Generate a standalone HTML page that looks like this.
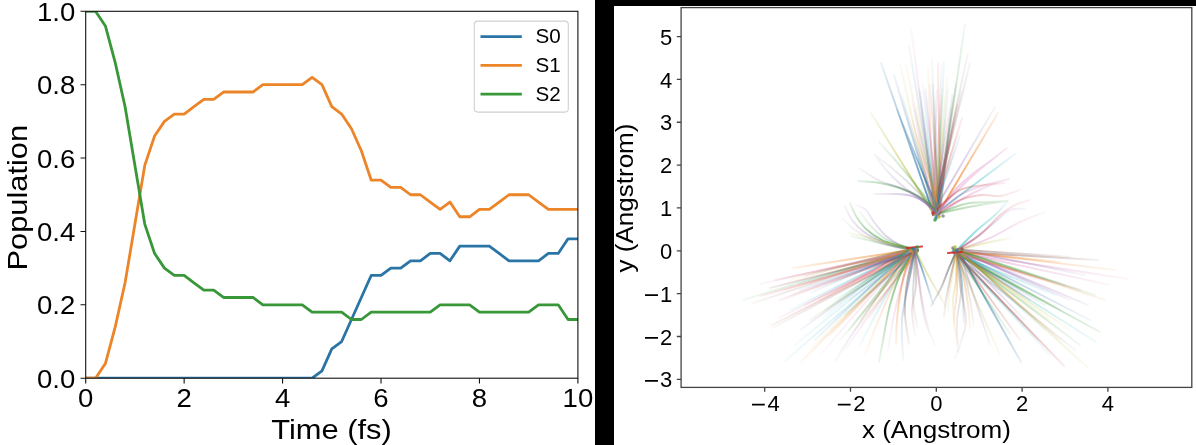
<!DOCTYPE html><html><head><meta charset="utf-8"><style>html,body{margin:0;padding:0;background:#fff;overflow:hidden}svg{display:block;will-change:transform}text{font-family:'Liberation Sans', sans-serif}</style></head><body>
<svg width="1196" height="445" viewBox="0 0 1196 445">
<rect x="0" y="0" width="1196" height="445" fill="#fff"/>
<defs><clipPath id="cl"><rect x="85.70" y="11.30" width="492.20" height="366.90"/></clipPath>
<filter id="bl" x="-5%" y="-5%" width="110%" height="110%"><feGaussianBlur stdDeviation="0.55"/></filter>
<clipPath id="cr"><rect x="681.10" y="7.60" width="510.70" height="379.80"/></clipPath></defs>
<g clip-path="url(#cl)" fill="none" stroke-width="2.80" stroke-linejoin="round" stroke-linecap="square">
<polyline points="85.70,378.20 95.54,378.20 105.39,378.20 115.23,378.20 125.08,378.20 134.92,378.20 144.76,378.20 154.61,378.20 164.45,378.20 174.30,378.20 184.14,378.20 193.98,378.20 203.83,378.20 213.67,378.20 223.52,378.20 233.36,378.20 243.20,378.20 253.05,378.20 262.89,378.20 272.74,378.20 282.58,378.20 292.42,378.20 302.27,378.20 312.11,378.20 321.96,370.86 331.80,348.85 341.64,341.51 351.49,319.50 361.33,297.48 371.18,275.47 381.02,275.47 390.86,268.13 400.71,268.13 410.55,260.79 420.40,260.79 430.24,253.45 440.08,253.45 449.93,260.79 459.77,246.12 469.62,246.12 479.46,246.12 489.30,246.12 499.15,253.45 508.99,260.79 518.84,260.79 528.68,260.79 538.52,260.79 548.37,253.45 558.21,253.45 568.06,238.78 577.90,238.78" stroke="#2b74a6"/>
<polyline points="85.70,378.20 95.54,378.20 105.39,363.52 115.23,326.83 125.08,282.81 134.92,224.10 144.76,165.40 154.61,136.05 164.45,121.37 174.30,114.03 184.14,114.03 193.98,106.69 203.83,99.36 213.67,99.36 223.52,92.02 233.36,92.02 243.20,92.02 253.05,92.02 262.89,84.68 272.74,84.68 282.58,84.68 292.42,84.68 302.27,84.68 312.11,77.34 321.96,84.68 331.80,106.69 341.64,114.03 351.49,128.71 361.33,150.72 371.18,180.07 381.02,180.07 390.86,187.41 400.71,187.41 410.55,194.75 420.40,194.75 430.24,202.09 440.08,209.43 449.93,202.09 459.77,216.76 469.62,216.76 479.46,209.43 489.30,209.43 499.15,202.09 508.99,194.75 518.84,194.75 528.68,194.75 538.52,202.09 548.37,209.43 558.21,209.43 568.06,209.43 577.90,209.43" stroke="#ec8428"/>
<polyline points="85.70,11.30 95.54,11.30 105.39,25.98 115.23,62.67 125.08,106.69 134.92,165.40 144.76,224.10 154.61,253.45 164.45,268.13 174.30,275.47 184.14,275.47 193.98,282.81 203.83,290.14 213.67,290.14 223.52,297.48 233.36,297.48 243.20,297.48 253.05,297.48 262.89,304.82 272.74,304.82 282.58,304.82 292.42,304.82 302.27,304.82 312.11,312.16 321.96,312.16 331.80,312.16 341.64,312.16 351.49,319.50 361.33,319.50 371.18,312.16 381.02,312.16 390.86,312.16 400.71,312.16 410.55,312.16 420.40,312.16 430.24,312.16 440.08,304.82 449.93,304.82 459.77,304.82 469.62,304.82 479.46,312.16 489.30,312.16 499.15,312.16 508.99,312.16 518.84,312.16 528.68,312.16 538.52,304.82 548.37,304.82 558.21,304.82 568.06,319.50 577.90,319.50" stroke="#389738"/>
</g>
<rect x="85.70" y="11.30" width="492.20" height="366.90" fill="none" stroke="#111" stroke-width="1.1"/>
<path d="M80.50 378.20H85.70M80.50 304.82H85.70M80.50 231.44H85.70M80.50 158.06H85.70M80.50 84.68H85.70M80.50 11.30H85.70M85.70 378.20V383.40M184.14 378.20V383.40M282.58 378.20V383.40M381.02 378.20V383.40M479.46 378.20V383.40M577.90 378.20V383.40" stroke="#111" stroke-width="1.1" fill="none"/>
<text transform="translate(75.2 387.80) scale(1.080 1)" font-size="25.50" text-anchor="end">0.0</text>
<text transform="translate(75.2 314.42) scale(1.080 1)" font-size="25.50" text-anchor="end">0.2</text>
<text transform="translate(75.2 241.04) scale(1.080 1)" font-size="25.50" text-anchor="end">0.4</text>
<text transform="translate(75.2 167.66) scale(1.080 1)" font-size="25.50" text-anchor="end">0.6</text>
<text transform="translate(75.2 94.28) scale(1.080 1)" font-size="25.50" text-anchor="end">0.8</text>
<text transform="translate(75.2 20.90) scale(1.080 1)" font-size="25.50" text-anchor="end">1.0</text>
<text transform="translate(85.70 407.2) scale(1.080 1)" font-size="25.50" text-anchor="middle">0</text>
<text transform="translate(184.14 407.2) scale(1.080 1)" font-size="25.50" text-anchor="middle">2</text>
<text transform="translate(282.58 407.2) scale(1.080 1)" font-size="25.50" text-anchor="middle">4</text>
<text transform="translate(381.02 407.2) scale(1.080 1)" font-size="25.50" text-anchor="middle">6</text>
<text transform="translate(479.46 407.2) scale(1.080 1)" font-size="25.50" text-anchor="middle">8</text>
<text transform="translate(577.90 407.2) scale(1.080 1)" font-size="25.50" text-anchor="middle">10</text>
<text transform="translate(331.50 438.9) scale(1.115 1)" font-size="27.7" text-anchor="middle">Time (fs)</text>
<text transform="translate(27.4 197.75) rotate(-90) scale(1.085 1)" font-size="28.4" text-anchor="middle">Population</text>
<rect x="474.3" y="21.1" width="94" height="91" rx="3.5" ry="3.5" fill="#fff" fill-opacity="0.8" stroke="#d0d0d0" stroke-width="1.1"/>
<path d="M480.5 36.70H521.8" stroke="#2b74a6" stroke-width="2.80"/>
<text x="535.5" y="43.30" font-size="20.6">S0</text>
<path d="M480.5 65.40H521.8" stroke="#ec8428" stroke-width="2.80"/>
<text x="535.5" y="72.00" font-size="20.6">S1</text>
<path d="M480.5 94.10H521.8" stroke="#389738" stroke-width="2.80"/>
<text x="535.5" y="100.70" font-size="20.6">S2</text>
<rect x="595" y="0" width="19" height="445" fill="#000"/>
<rect x="595" y="0" width="601" height="6" fill="#000"/>
<g clip-path="url(#cr)"><g id="traj" filter="url(#bl)" fill="none" stroke-linecap="round" stroke-width="1.9">
<defs><linearGradient id="g1" gradientUnits="userSpaceOnUse" x1="935.1" y1="212.7" x2="911.0" y2="28.0"><stop offset="0" stop-color="#d97dbd" stop-opacity="0.40"/><stop offset="1" stop-color="#d97dbd" stop-opacity="0.05"/></linearGradient><linearGradient id="g2" gradientUnits="userSpaceOnUse" x1="937.7" y1="212.3" x2="965.0" y2="24.0"><stop offset="0" stop-color="#369936" stop-opacity="0.48"/><stop offset="1" stop-color="#369936" stop-opacity="0.06"/></linearGradient><linearGradient id="g3" gradientUnits="userSpaceOnUse" x1="936.8" y1="213.6" x2="909.0" y2="46.0"><stop offset="0" stop-color="#2974a8" stop-opacity="0.32"/><stop offset="1" stop-color="#2974a8" stop-opacity="0.04"/></linearGradient><linearGradient id="g4" gradientUnits="userSpaceOnUse" x1="933.0" y1="214.3" x2="968.0" y2="53.0"><stop offset="0" stop-color="#7f7f7f" stop-opacity="0.48"/><stop offset="1" stop-color="#7f7f7f" stop-opacity="0.06"/></linearGradient><linearGradient id="g5" gradientUnits="userSpaceOnUse" x1="932.8" y1="214.0" x2="970.0" y2="63.0"><stop offset="0" stop-color="#7f7f7f" stop-opacity="0.56"/><stop offset="1" stop-color="#7f7f7f" stop-opacity="0.07"/></linearGradient><linearGradient id="g6" gradientUnits="userSpaceOnUse" x1="933.1" y1="212.4" x2="881.0" y2="63.0"><stop offset="0" stop-color="#2974a8" stop-opacity="0.80"/><stop offset="1" stop-color="#2974a8" stop-opacity="0.10"/></linearGradient><linearGradient id="g7" gradientUnits="userSpaceOnUse" x1="935.9" y1="215.7" x2="894.0" y2="75.0"><stop offset="0" stop-color="#2974a8" stop-opacity="0.56"/><stop offset="1" stop-color="#2974a8" stop-opacity="0.07"/></linearGradient><linearGradient id="g8" gradientUnits="userSpaceOnUse" x1="933.5" y1="213.0" x2="900.0" y2="64.0"><stop offset="0" stop-color="#b9ba37" stop-opacity="0.40"/><stop offset="1" stop-color="#b9ba37" stop-opacity="0.05"/></linearGradient><linearGradient id="g9" gradientUnits="userSpaceOnUse" x1="937.5" y1="216.3" x2="906.0" y2="65.0"><stop offset="0" stop-color="#f08323" stop-opacity="0.32"/><stop offset="1" stop-color="#f08323" stop-opacity="0.04"/></linearGradient><linearGradient id="g10" gradientUnits="userSpaceOnUse" x1="937.1" y1="213.8" x2="932.0" y2="60.0"><stop offset="0" stop-color="#7f7f7f" stop-opacity="0.40"/><stop offset="1" stop-color="#7f7f7f" stop-opacity="0.05"/></linearGradient><linearGradient id="g11" gradientUnits="userSpaceOnUse" x1="940.3" y1="212.2" x2="938.0" y2="63.0"><stop offset="0" stop-color="#c42f30" stop-opacity="0.48"/><stop offset="1" stop-color="#c42f30" stop-opacity="0.06"/></linearGradient><linearGradient id="g12" gradientUnits="userSpaceOnUse" x1="939.4" y1="213.3" x2="941.0" y2="65.0"><stop offset="0" stop-color="#d97dbd" stop-opacity="0.48"/><stop offset="1" stop-color="#d97dbd" stop-opacity="0.06"/></linearGradient><linearGradient id="g13" gradientUnits="userSpaceOnUse" x1="933.7" y1="212.5" x2="928.0" y2="68.0"><stop offset="0" stop-color="#f08323" stop-opacity="0.40"/><stop offset="1" stop-color="#f08323" stop-opacity="0.05"/></linearGradient><linearGradient id="g14" gradientUnits="userSpaceOnUse" x1="935.0" y1="215.7" x2="947.0" y2="78.0"><stop offset="0" stop-color="#b9ba37" stop-opacity="0.48"/><stop offset="1" stop-color="#b9ba37" stop-opacity="0.06"/></linearGradient><linearGradient id="g15" gradientUnits="userSpaceOnUse" x1="933.9" y1="214.6" x2="871.0" y2="113.0"><stop offset="0" stop-color="#b9ba37" stop-opacity="0.80"/><stop offset="1" stop-color="#b9ba37" stop-opacity="0.10"/></linearGradient><linearGradient id="g16" gradientUnits="userSpaceOnUse" x1="937.6" y1="213.7" x2="879.0" y2="142.0"><stop offset="0" stop-color="#369936" stop-opacity="0.48"/><stop offset="1" stop-color="#369936" stop-opacity="0.06"/></linearGradient><linearGradient id="g17" gradientUnits="userSpaceOnUse" x1="936.9" y1="212.3" x2="875.0" y2="155.0"><stop offset="0" stop-color="#7f7f7f" stop-opacity="0.40"/><stop offset="1" stop-color="#7f7f7f" stop-opacity="0.05"/></linearGradient><linearGradient id="g18" gradientUnits="userSpaceOnUse" x1="933.0" y1="212.9" x2="995.0" y2="107.0"><stop offset="0" stop-color="#916ab4" stop-opacity="0.48"/><stop offset="1" stop-color="#916ab4" stop-opacity="0.06"/></linearGradient><linearGradient id="g19" gradientUnits="userSpaceOnUse" x1="937.9" y1="213.9" x2="998.0" y2="113.0"><stop offset="0" stop-color="#f08323" stop-opacity="0.88"/><stop offset="1" stop-color="#f08323" stop-opacity="0.11"/></linearGradient><linearGradient id="g20" gradientUnits="userSpaceOnUse" x1="935.0" y1="214.6" x2="1007.0" y2="148.0"><stop offset="0" stop-color="#d97dbd" stop-opacity="0.56"/><stop offset="1" stop-color="#d97dbd" stop-opacity="0.07"/></linearGradient><linearGradient id="g21" gradientUnits="userSpaceOnUse" x1="936.1" y1="213.3" x2="1015.0" y2="154.0"><stop offset="0" stop-color="#29b7c5" stop-opacity="0.72"/><stop offset="1" stop-color="#29b7c5" stop-opacity="0.09"/></linearGradient><linearGradient id="g22" gradientUnits="userSpaceOnUse" x1="938.9" y1="215.1" x2="1009.0" y2="179.0"><stop offset="0" stop-color="#d97dbd" stop-opacity="0.56"/><stop offset="1" stop-color="#d97dbd" stop-opacity="0.07"/></linearGradient><linearGradient id="g23" gradientUnits="userSpaceOnUse" x1="934.5" y1="214.6" x2="1007.0" y2="201.0"><stop offset="0" stop-color="#369936" stop-opacity="0.48"/><stop offset="1" stop-color="#369936" stop-opacity="0.06"/></linearGradient><linearGradient id="g24" gradientUnits="userSpaceOnUse" x1="936.7" y1="215.9" x2="920.0" y2="92.0"><stop offset="0" stop-color="#2974a8" stop-opacity="0.48"/><stop offset="1" stop-color="#2974a8" stop-opacity="0.06"/></linearGradient><linearGradient id="g25" gradientUnits="userSpaceOnUse" x1="938.3" y1="213.3" x2="925.0" y2="90.0"><stop offset="0" stop-color="#916ab4" stop-opacity="0.40"/><stop offset="1" stop-color="#916ab4" stop-opacity="0.05"/></linearGradient><linearGradient id="g26" gradientUnits="userSpaceOnUse" x1="940.3" y1="212.5" x2="952.0" y2="95.0"><stop offset="0" stop-color="#369936" stop-opacity="0.48"/><stop offset="1" stop-color="#369936" stop-opacity="0.06"/></linearGradient><linearGradient id="g27" gradientUnits="userSpaceOnUse" x1="935.8" y1="215.4" x2="957.0" y2="105.0"><stop offset="0" stop-color="#86584f" stop-opacity="0.72"/><stop offset="1" stop-color="#86584f" stop-opacity="0.09"/></linearGradient><linearGradient id="g28" gradientUnits="userSpaceOnUse" x1="933.7" y1="214.2" x2="945.0" y2="120.0"><stop offset="0" stop-color="#f08323" stop-opacity="0.48"/><stop offset="1" stop-color="#f08323" stop-opacity="0.06"/></linearGradient><linearGradient id="g29" gradientUnits="userSpaceOnUse" x1="932.8" y1="215.0" x2="962.0" y2="118.0"><stop offset="0" stop-color="#c42f30" stop-opacity="0.56"/><stop offset="1" stop-color="#c42f30" stop-opacity="0.07"/></linearGradient><linearGradient id="g30" gradientUnits="userSpaceOnUse" x1="938.6" y1="214.6" x2="915.0" y2="110.0"><stop offset="0" stop-color="#29b7c5" stop-opacity="0.48"/><stop offset="1" stop-color="#29b7c5" stop-opacity="0.06"/></linearGradient><linearGradient id="g31" gradientUnits="userSpaceOnUse" x1="939.5" y1="213.4" x2="930.0" y2="85.0"><stop offset="0" stop-color="#86584f" stop-opacity="0.40"/><stop offset="1" stop-color="#86584f" stop-opacity="0.05"/></linearGradient><linearGradient id="g32" gradientUnits="userSpaceOnUse" x1="938.1" y1="214.7" x2="917.0" y2="106.0"><stop offset="0" stop-color="#b9ba37" stop-opacity="0.48"/><stop offset="1" stop-color="#b9ba37" stop-opacity="0.06"/></linearGradient><linearGradient id="g33" gradientUnits="userSpaceOnUse" x1="937.1" y1="214.1" x2="926.0" y2="90.0"><stop offset="0" stop-color="#d97dbd" stop-opacity="0.48"/><stop offset="1" stop-color="#d97dbd" stop-opacity="0.06"/></linearGradient><linearGradient id="g34" gradientUnits="userSpaceOnUse" x1="939.2" y1="216.3" x2="933.0" y2="85.0"><stop offset="0" stop-color="#2974a8" stop-opacity="0.48"/><stop offset="1" stop-color="#2974a8" stop-opacity="0.06"/></linearGradient><linearGradient id="g35" gradientUnits="userSpaceOnUse" x1="936.3" y1="215.0" x2="944.0" y2="62.0"><stop offset="0" stop-color="#29b7c5" stop-opacity="0.48"/><stop offset="1" stop-color="#29b7c5" stop-opacity="0.06"/></linearGradient><linearGradient id="g36" gradientUnits="userSpaceOnUse" x1="933.0" y1="215.2" x2="950.0" y2="108.0"><stop offset="0" stop-color="#c42f30" stop-opacity="0.40"/><stop offset="1" stop-color="#c42f30" stop-opacity="0.05"/></linearGradient><linearGradient id="g37" gradientUnits="userSpaceOnUse" x1="937.7" y1="216.5" x2="902.0" y2="96.0"><stop offset="0" stop-color="#7f7f7f" stop-opacity="0.48"/><stop offset="1" stop-color="#7f7f7f" stop-opacity="0.06"/></linearGradient><linearGradient id="g38" gradientUnits="userSpaceOnUse" x1="939.1" y1="213.3" x2="897.0" y2="110.0"><stop offset="0" stop-color="#2974a8" stop-opacity="0.88"/><stop offset="1" stop-color="#2974a8" stop-opacity="0.11"/></linearGradient><linearGradient id="g39" gradientUnits="userSpaceOnUse" x1="935.6" y1="215.0" x2="956.0" y2="84.0"><stop offset="0" stop-color="#7f7f7f" stop-opacity="0.80"/><stop offset="1" stop-color="#7f7f7f" stop-opacity="0.10"/></linearGradient><linearGradient id="g40" gradientUnits="userSpaceOnUse" x1="932.7" y1="214.1" x2="961.0" y2="92.0"><stop offset="0" stop-color="#c42f30" stop-opacity="0.56"/><stop offset="1" stop-color="#c42f30" stop-opacity="0.07"/></linearGradient><linearGradient id="g41" gradientUnits="userSpaceOnUse" x1="933.8" y1="212.5" x2="912.0" y2="100.0"><stop offset="0" stop-color="#d97dbd" stop-opacity="0.48"/><stop offset="1" stop-color="#d97dbd" stop-opacity="0.06"/></linearGradient><linearGradient id="g42" gradientUnits="userSpaceOnUse" x1="933.0" y1="215.5" x2="937.0" y2="90.0"><stop offset="0" stop-color="#916ab4" stop-opacity="0.48"/><stop offset="1" stop-color="#916ab4" stop-opacity="0.06"/></linearGradient><linearGradient id="g43" gradientUnits="userSpaceOnUse" x1="933.5" y1="213.1" x2="941.0" y2="95.0"><stop offset="0" stop-color="#f08323" stop-opacity="0.48"/><stop offset="1" stop-color="#f08323" stop-opacity="0.06"/></linearGradient><linearGradient id="g44" gradientUnits="userSpaceOnUse" x1="935.6" y1="215.9" x2="923.0" y2="84.0"><stop offset="0" stop-color="#29b7c5" stop-opacity="0.40"/><stop offset="1" stop-color="#29b7c5" stop-opacity="0.05"/></linearGradient><linearGradient id="g45" gradientUnits="userSpaceOnUse" x1="933.1" y1="214.0" x2="935.0" y2="98.0"><stop offset="0" stop-color="#f08323" stop-opacity="0.40"/><stop offset="1" stop-color="#f08323" stop-opacity="0.05"/></linearGradient><linearGradient id="g46" gradientUnits="userSpaceOnUse" x1="936.9" y1="216.0" x2="948.0" y2="88.0"><stop offset="0" stop-color="#2974a8" stop-opacity="0.40"/><stop offset="1" stop-color="#2974a8" stop-opacity="0.05"/></linearGradient><linearGradient id="g47" gradientUnits="userSpaceOnUse" x1="939.1" y1="215.9" x2="953.0" y2="96.0"><stop offset="0" stop-color="#916ab4" stop-opacity="0.40"/><stop offset="1" stop-color="#916ab4" stop-opacity="0.05"/></linearGradient><linearGradient id="g48" gradientUnits="userSpaceOnUse" x1="934.7" y1="213.9" x2="919.0" y2="88.0"><stop offset="0" stop-color="#7f7f7f" stop-opacity="0.48"/><stop offset="1" stop-color="#7f7f7f" stop-opacity="0.06"/></linearGradient><linearGradient id="g49" gradientUnits="userSpaceOnUse" x1="935.4" y1="216.0" x2="943.0" y2="88.0"><stop offset="0" stop-color="#b9ba37" stop-opacity="0.48"/><stop offset="1" stop-color="#b9ba37" stop-opacity="0.06"/></linearGradient><linearGradient id="g50" gradientUnits="userSpaceOnUse" x1="940.2" y1="212.7" x2="912.0" y2="120.0"><stop offset="0" stop-color="#f08323" stop-opacity="0.48"/><stop offset="1" stop-color="#f08323" stop-opacity="0.06"/></linearGradient><linearGradient id="g51" gradientUnits="userSpaceOnUse" x1="933.9" y1="213.0" x2="960.0" y2="135.0"><stop offset="0" stop-color="#2974a8" stop-opacity="0.48"/><stop offset="1" stop-color="#2974a8" stop-opacity="0.06"/></linearGradient><linearGradient id="g52" gradientUnits="userSpaceOnUse" x1="912.4" y1="249.7" x2="793.0" y2="268.0"><stop offset="0" stop-color="#f08323" stop-opacity="0.64"/><stop offset="1" stop-color="#f08323" stop-opacity="0.08"/></linearGradient><linearGradient id="g53" gradientUnits="userSpaceOnUse" x1="915.2" y1="248.7" x2="760.0" y2="284.0"><stop offset="0" stop-color="#d97dbd" stop-opacity="0.48"/><stop offset="1" stop-color="#d97dbd" stop-opacity="0.06"/></linearGradient><linearGradient id="g54" gradientUnits="userSpaceOnUse" x1="910.5" y1="249.4" x2="743.0" y2="300.0"><stop offset="0" stop-color="#369936" stop-opacity="0.40"/><stop offset="1" stop-color="#369936" stop-opacity="0.05"/></linearGradient><linearGradient id="g55" gradientUnits="userSpaceOnUse" x1="913.5" y1="250.0" x2="753.0" y2="303.0"><stop offset="0" stop-color="#86584f" stop-opacity="0.40"/><stop offset="1" stop-color="#86584f" stop-opacity="0.05"/></linearGradient><linearGradient id="g56" gradientUnits="userSpaceOnUse" x1="918.1" y1="250.6" x2="770.0" y2="288.0"><stop offset="0" stop-color="#86584f" stop-opacity="0.80"/><stop offset="1" stop-color="#86584f" stop-opacity="0.10"/></linearGradient><linearGradient id="g57" gradientUnits="userSpaceOnUse" x1="914.6" y1="250.3" x2="791.0" y2="295.0"><stop offset="0" stop-color="#d97dbd" stop-opacity="0.48"/><stop offset="1" stop-color="#d97dbd" stop-opacity="0.06"/></linearGradient><linearGradient id="g58" gradientUnits="userSpaceOnUse" x1="915.9" y1="247.7" x2="779.0" y2="318.0"><stop offset="0" stop-color="#d97dbd" stop-opacity="0.56"/><stop offset="1" stop-color="#d97dbd" stop-opacity="0.07"/></linearGradient><linearGradient id="g59" gradientUnits="userSpaceOnUse" x1="917.7" y1="251.0" x2="772.0" y2="325.0"><stop offset="0" stop-color="#c42f30" stop-opacity="0.48"/><stop offset="1" stop-color="#c42f30" stop-opacity="0.06"/></linearGradient><linearGradient id="g60" gradientUnits="userSpaceOnUse" x1="917.5" y1="251.1" x2="772.0" y2="328.0"><stop offset="0" stop-color="#86584f" stop-opacity="0.40"/><stop offset="1" stop-color="#86584f" stop-opacity="0.05"/></linearGradient><linearGradient id="g61" gradientUnits="userSpaceOnUse" x1="913.6" y1="249.3" x2="785.0" y2="361.0"><stop offset="0" stop-color="#29b7c5" stop-opacity="0.36"/><stop offset="1" stop-color="#29b7c5" stop-opacity="0.04"/></linearGradient><linearGradient id="g62" gradientUnits="userSpaceOnUse" x1="911.3" y1="250.4" x2="800.0" y2="363.0"><stop offset="0" stop-color="#f08323" stop-opacity="0.42"/><stop offset="1" stop-color="#f08323" stop-opacity="0.05"/></linearGradient><linearGradient id="g63" gradientUnits="userSpaceOnUse" x1="911.0" y1="247.8" x2="823.0" y2="318.0"><stop offset="0" stop-color="#29b7c5" stop-opacity="0.40"/><stop offset="1" stop-color="#29b7c5" stop-opacity="0.05"/></linearGradient><linearGradient id="g64" gradientUnits="userSpaceOnUse" x1="912.2" y1="248.2" x2="835.0" y2="361.0"><stop offset="0" stop-color="#916ab4" stop-opacity="0.42"/><stop offset="1" stop-color="#916ab4" stop-opacity="0.05"/></linearGradient><linearGradient id="g65" gradientUnits="userSpaceOnUse" x1="913.2" y1="247.7" x2="849.0" y2="330.0"><stop offset="0" stop-color="#369936" stop-opacity="0.56"/><stop offset="1" stop-color="#369936" stop-opacity="0.07"/></linearGradient><linearGradient id="g66" gradientUnits="userSpaceOnUse" x1="910.5" y1="248.2" x2="815.0" y2="340.0"><stop offset="0" stop-color="#2974a8" stop-opacity="0.42"/><stop offset="1" stop-color="#2974a8" stop-opacity="0.05"/></linearGradient><linearGradient id="g67" gradientUnits="userSpaceOnUse" x1="911.3" y1="249.1" x2="810.0" y2="350.0"><stop offset="0" stop-color="#b9ba37" stop-opacity="0.36"/><stop offset="1" stop-color="#b9ba37" stop-opacity="0.04"/></linearGradient><linearGradient id="g68" gradientUnits="userSpaceOnUse" x1="910.7" y1="251.4" x2="830.0" y2="335.0"><stop offset="0" stop-color="#f08323" stop-opacity="0.54"/><stop offset="1" stop-color="#f08323" stop-opacity="0.07"/></linearGradient><linearGradient id="g69" gradientUnits="userSpaceOnUse" x1="915.4" y1="248.2" x2="800.0" y2="330.0"><stop offset="0" stop-color="#916ab4" stop-opacity="0.48"/><stop offset="1" stop-color="#916ab4" stop-opacity="0.06"/></linearGradient><linearGradient id="g70" gradientUnits="userSpaceOnUse" x1="912.5" y1="249.1" x2="790.0" y2="310.0"><stop offset="0" stop-color="#29b7c5" stop-opacity="0.48"/><stop offset="1" stop-color="#29b7c5" stop-opacity="0.06"/></linearGradient><linearGradient id="g71" gradientUnits="userSpaceOnUse" x1="913.4" y1="248.1" x2="820.0" y2="300.0"><stop offset="0" stop-color="#c42f30" stop-opacity="0.48"/><stop offset="1" stop-color="#c42f30" stop-opacity="0.06"/></linearGradient><linearGradient id="g72" gradientUnits="userSpaceOnUse" x1="917.3" y1="252.0" x2="845.0" y2="350.0"><stop offset="0" stop-color="#d97dbd" stop-opacity="0.42"/><stop offset="1" stop-color="#d97dbd" stop-opacity="0.05"/></linearGradient><linearGradient id="g73" gradientUnits="userSpaceOnUse" x1="914.2" y1="249.7" x2="860.0" y2="345.0"><stop offset="0" stop-color="#29b7c5" stop-opacity="0.36"/><stop offset="1" stop-color="#29b7c5" stop-opacity="0.04"/></linearGradient><linearGradient id="g74" gradientUnits="userSpaceOnUse" x1="911.2" y1="248.0" x2="865.0" y2="355.0"><stop offset="0" stop-color="#f08323" stop-opacity="0.36"/><stop offset="1" stop-color="#f08323" stop-opacity="0.04"/></linearGradient><linearGradient id="g75" gradientUnits="userSpaceOnUse" x1="913.2" y1="248.7" x2="865.0" y2="262.0"><stop offset="0" stop-color="#7f7f7f" stop-opacity="0.48"/><stop offset="1" stop-color="#7f7f7f" stop-opacity="0.06"/></linearGradient><linearGradient id="g76" gradientUnits="userSpaceOnUse" x1="917.1" y1="248.2" x2="840.0" y2="272.0"><stop offset="0" stop-color="#7f7f7f" stop-opacity="0.48"/><stop offset="1" stop-color="#7f7f7f" stop-opacity="0.06"/></linearGradient><linearGradient id="g77" gradientUnits="userSpaceOnUse" x1="910.7" y1="251.8" x2="860.0" y2="320.0"><stop offset="0" stop-color="#f08323" stop-opacity="0.56"/><stop offset="1" stop-color="#f08323" stop-opacity="0.07"/></linearGradient><linearGradient id="g78" gradientUnits="userSpaceOnUse" x1="914.7" y1="248.2" x2="870.0" y2="318.0"><stop offset="0" stop-color="#d97dbd" stop-opacity="0.48"/><stop offset="1" stop-color="#d97dbd" stop-opacity="0.06"/></linearGradient><linearGradient id="g79" gradientUnits="userSpaceOnUse" x1="914.8" y1="247.6" x2="805.0" y2="276.0"><stop offset="0" stop-color="#86584f" stop-opacity="0.48"/><stop offset="1" stop-color="#86584f" stop-opacity="0.06"/></linearGradient><linearGradient id="g80" gradientUnits="userSpaceOnUse" x1="914.7" y1="251.9" x2="780.0" y2="300.0"><stop offset="0" stop-color="#c42f30" stop-opacity="0.48"/><stop offset="1" stop-color="#c42f30" stop-opacity="0.06"/></linearGradient><linearGradient id="g81" gradientUnits="userSpaceOnUse" x1="917.4" y1="250.6" x2="775.0" y2="280.0"><stop offset="0" stop-color="#c42f30" stop-opacity="0.48"/><stop offset="1" stop-color="#c42f30" stop-opacity="0.06"/></linearGradient><linearGradient id="g82" gradientUnits="userSpaceOnUse" x1="912.6" y1="249.2" x2="785.0" y2="290.0"><stop offset="0" stop-color="#f08323" stop-opacity="0.48"/><stop offset="1" stop-color="#f08323" stop-opacity="0.06"/></linearGradient><linearGradient id="g83" gradientUnits="userSpaceOnUse" x1="911.8" y1="251.0" x2="820.0" y2="270.0"><stop offset="0" stop-color="#d97dbd" stop-opacity="0.48"/><stop offset="1" stop-color="#d97dbd" stop-opacity="0.06"/></linearGradient><linearGradient id="g84" gradientUnits="userSpaceOnUse" x1="914.8" y1="251.0" x2="798.0" y2="284.0"><stop offset="0" stop-color="#29b7c5" stop-opacity="0.48"/><stop offset="1" stop-color="#29b7c5" stop-opacity="0.06"/></linearGradient><linearGradient id="g85" gradientUnits="userSpaceOnUse" x1="913.1" y1="248.5" x2="812.0" y2="292.0"><stop offset="0" stop-color="#2974a8" stop-opacity="0.48"/><stop offset="1" stop-color="#2974a8" stop-opacity="0.06"/></linearGradient><linearGradient id="g86" gradientUnits="userSpaceOnUse" x1="917.0" y1="251.9" x2="760.0" y2="296.0"><stop offset="0" stop-color="#c42f30" stop-opacity="0.40"/><stop offset="1" stop-color="#c42f30" stop-opacity="0.05"/></linearGradient><linearGradient id="g87" gradientUnits="userSpaceOnUse" x1="917.3" y1="251.1" x2="765.0" y2="295.0"><stop offset="0" stop-color="#d97dbd" stop-opacity="0.40"/><stop offset="1" stop-color="#d97dbd" stop-opacity="0.05"/></linearGradient><linearGradient id="g88" gradientUnits="userSpaceOnUse" x1="917.0" y1="250.8" x2="800.0" y2="290.0"><stop offset="0" stop-color="#2974a8" stop-opacity="0.48"/><stop offset="1" stop-color="#2974a8" stop-opacity="0.06"/></linearGradient><linearGradient id="g89" gradientUnits="userSpaceOnUse" x1="912.3" y1="249.8" x2="810.0" y2="283.0"><stop offset="0" stop-color="#f08323" stop-opacity="0.48"/><stop offset="1" stop-color="#f08323" stop-opacity="0.06"/></linearGradient><linearGradient id="g90" gradientUnits="userSpaceOnUse" x1="913.3" y1="247.6" x2="790.0" y2="280.0"><stop offset="0" stop-color="#b9ba37" stop-opacity="0.40"/><stop offset="1" stop-color="#b9ba37" stop-opacity="0.05"/></linearGradient><linearGradient id="g91" gradientUnits="userSpaceOnUse" x1="910.7" y1="248.8" x2="825.0" y2="310.0"><stop offset="0" stop-color="#369936" stop-opacity="0.48"/><stop offset="1" stop-color="#369936" stop-opacity="0.06"/></linearGradient><linearGradient id="g92" gradientUnits="userSpaceOnUse" x1="912.6" y1="250.6" x2="835.0" y2="300.0"><stop offset="0" stop-color="#29b7c5" stop-opacity="0.48"/><stop offset="1" stop-color="#29b7c5" stop-opacity="0.06"/></linearGradient><linearGradient id="g93" gradientUnits="userSpaceOnUse" x1="918.2" y1="249.5" x2="845.0" y2="315.0"><stop offset="0" stop-color="#2974a8" stop-opacity="0.56"/><stop offset="1" stop-color="#2974a8" stop-opacity="0.07"/></linearGradient><linearGradient id="g94" gradientUnits="userSpaceOnUse" x1="918.0" y1="251.9" x2="855.0" y2="330.0"><stop offset="0" stop-color="#b9ba37" stop-opacity="0.48"/><stop offset="1" stop-color="#b9ba37" stop-opacity="0.06"/></linearGradient><linearGradient id="g95" gradientUnits="userSpaceOnUse" x1="918.1" y1="249.1" x2="810.0" y2="320.0"><stop offset="0" stop-color="#369936" stop-opacity="0.48"/><stop offset="1" stop-color="#369936" stop-opacity="0.06"/></linearGradient><linearGradient id="g96" gradientUnits="userSpaceOnUse" x1="912.3" y1="248.5" x2="795.0" y2="345.0"><stop offset="0" stop-color="#29b7c5" stop-opacity="0.30"/><stop offset="1" stop-color="#29b7c5" stop-opacity="0.04"/></linearGradient><linearGradient id="g97" gradientUnits="userSpaceOnUse" x1="912.1" y1="248.4" x2="820.0" y2="355.0"><stop offset="0" stop-color="#d97dbd" stop-opacity="0.30"/><stop offset="1" stop-color="#d97dbd" stop-opacity="0.04"/></linearGradient><linearGradient id="g98" gradientUnits="userSpaceOnUse" x1="915.5" y1="251.6" x2="840.0" y2="340.0"><stop offset="0" stop-color="#369936" stop-opacity="0.36"/><stop offset="1" stop-color="#369936" stop-opacity="0.04"/></linearGradient><linearGradient id="g99" gradientUnits="userSpaceOnUse" x1="917.2" y1="249.7" x2="850.0" y2="300.0"><stop offset="0" stop-color="#916ab4" stop-opacity="0.48"/><stop offset="1" stop-color="#916ab4" stop-opacity="0.06"/></linearGradient><linearGradient id="g100" gradientUnits="userSpaceOnUse" x1="915.7" y1="251.1" x2="805.0" y2="305.0"><stop offset="0" stop-color="#c42f30" stop-opacity="0.48"/><stop offset="1" stop-color="#c42f30" stop-opacity="0.06"/></linearGradient><linearGradient id="g101" gradientUnits="userSpaceOnUse" x1="952.7" y1="251.5" x2="1128.0" y2="279.0"><stop offset="0" stop-color="#d97dbd" stop-opacity="0.48"/><stop offset="1" stop-color="#d97dbd" stop-opacity="0.06"/></linearGradient><linearGradient id="g102" gradientUnits="userSpaceOnUse" x1="959.3" y1="252.0" x2="1098.0" y2="260.0"><stop offset="0" stop-color="#86584f" stop-opacity="0.64"/><stop offset="1" stop-color="#86584f" stop-opacity="0.08"/></linearGradient><linearGradient id="g103" gradientUnits="userSpaceOnUse" x1="958.0" y1="250.7" x2="1088.0" y2="305.0"><stop offset="0" stop-color="#916ab4" stop-opacity="0.56"/><stop offset="1" stop-color="#916ab4" stop-opacity="0.07"/></linearGradient><linearGradient id="g104" gradientUnits="userSpaceOnUse" x1="953.4" y1="252.1" x2="1100.0" y2="332.0"><stop offset="0" stop-color="#369936" stop-opacity="0.72"/><stop offset="1" stop-color="#369936" stop-opacity="0.09"/></linearGradient><linearGradient id="g105" gradientUnits="userSpaceOnUse" x1="954.7" y1="252.1" x2="1096.0" y2="342.0"><stop offset="0" stop-color="#29b7c5" stop-opacity="0.48"/><stop offset="1" stop-color="#29b7c5" stop-opacity="0.06"/></linearGradient><linearGradient id="g106" gradientUnits="userSpaceOnUse" x1="959.8" y1="250.3" x2="1088.0" y2="368.0"><stop offset="0" stop-color="#b9ba37" stop-opacity="0.48"/><stop offset="1" stop-color="#b9ba37" stop-opacity="0.06"/></linearGradient><linearGradient id="g107" gradientUnits="userSpaceOnUse" x1="955.2" y1="252.8" x2="1064.0" y2="366.0"><stop offset="0" stop-color="#c42f30" stop-opacity="0.72"/><stop offset="1" stop-color="#c42f30" stop-opacity="0.09"/></linearGradient><linearGradient id="g108" gradientUnits="userSpaceOnUse" x1="957.8" y1="249.3" x2="1021.0" y2="362.0"><stop offset="0" stop-color="#2974a8" stop-opacity="0.88"/><stop offset="1" stop-color="#2974a8" stop-opacity="0.11"/></linearGradient><linearGradient id="g109" gradientUnits="userSpaceOnUse" x1="953.0" y1="249.2" x2="1070.0" y2="257.0"><stop offset="0" stop-color="#86584f" stop-opacity="0.56"/><stop offset="1" stop-color="#86584f" stop-opacity="0.07"/></linearGradient><linearGradient id="g110" gradientUnits="userSpaceOnUse" x1="959.2" y1="252.1" x2="1060.0" y2="262.0"><stop offset="0" stop-color="#f08323" stop-opacity="0.64"/><stop offset="1" stop-color="#f08323" stop-opacity="0.08"/></linearGradient><linearGradient id="g111" gradientUnits="userSpaceOnUse" x1="953.2" y1="252.2" x2="1080.0" y2="290.0"><stop offset="0" stop-color="#c42f30" stop-opacity="0.56"/><stop offset="1" stop-color="#c42f30" stop-opacity="0.07"/></linearGradient><linearGradient id="g112" gradientUnits="userSpaceOnUse" x1="959.8" y1="251.5" x2="1070.0" y2="300.0"><stop offset="0" stop-color="#916ab4" stop-opacity="0.56"/><stop offset="1" stop-color="#916ab4" stop-opacity="0.07"/></linearGradient><linearGradient id="g113" gradientUnits="userSpaceOnUse" x1="954.8" y1="251.0" x2="1060.0" y2="310.0"><stop offset="0" stop-color="#369936" stop-opacity="0.56"/><stop offset="1" stop-color="#369936" stop-opacity="0.07"/></linearGradient><linearGradient id="g114" gradientUnits="userSpaceOnUse" x1="953.0" y1="248.6" x2="1050.0" y2="320.0"><stop offset="0" stop-color="#b9ba37" stop-opacity="0.48"/><stop offset="1" stop-color="#b9ba37" stop-opacity="0.06"/></linearGradient><linearGradient id="g115" gradientUnits="userSpaceOnUse" x1="959.8" y1="251.4" x2="1045.0" y2="330.0"><stop offset="0" stop-color="#29b7c5" stop-opacity="0.48"/><stop offset="1" stop-color="#29b7c5" stop-opacity="0.06"/></linearGradient><linearGradient id="g116" gradientUnits="userSpaceOnUse" x1="956.2" y1="252.7" x2="1038.0" y2="340.0"><stop offset="0" stop-color="#7f7f7f" stop-opacity="0.56"/><stop offset="1" stop-color="#7f7f7f" stop-opacity="0.07"/></linearGradient><linearGradient id="g117" gradientUnits="userSpaceOnUse" x1="955.5" y1="252.4" x2="1010.0" y2="334.0"><stop offset="0" stop-color="#369936" stop-opacity="0.48"/><stop offset="1" stop-color="#369936" stop-opacity="0.06"/></linearGradient><linearGradient id="g118" gradientUnits="userSpaceOnUse" x1="958.6" y1="249.4" x2="990.0" y2="345.0"><stop offset="0" stop-color="#916ab4" stop-opacity="0.48"/><stop offset="1" stop-color="#916ab4" stop-opacity="0.06"/></linearGradient><linearGradient id="g119" gradientUnits="userSpaceOnUse" x1="954.0" y1="249.8" x2="1000.0" y2="355.0"><stop offset="0" stop-color="#b9ba37" stop-opacity="0.40"/><stop offset="1" stop-color="#b9ba37" stop-opacity="0.05"/></linearGradient><linearGradient id="g120" gradientUnits="userSpaceOnUse" x1="953.9" y1="251.1" x2="1110.0" y2="285.0"><stop offset="0" stop-color="#d97dbd" stop-opacity="0.48"/><stop offset="1" stop-color="#d97dbd" stop-opacity="0.06"/></linearGradient><linearGradient id="g121" gradientUnits="userSpaceOnUse" x1="954.1" y1="250.4" x2="1105.0" y2="300.0"><stop offset="0" stop-color="#f08323" stop-opacity="0.48"/><stop offset="1" stop-color="#f08323" stop-opacity="0.06"/></linearGradient><linearGradient id="g122" gradientUnits="userSpaceOnUse" x1="953.0" y1="252.6" x2="1075.0" y2="350.0"><stop offset="0" stop-color="#7f7f7f" stop-opacity="0.48"/><stop offset="1" stop-color="#7f7f7f" stop-opacity="0.06"/></linearGradient><linearGradient id="g123" gradientUnits="userSpaceOnUse" x1="954.8" y1="250.6" x2="1090.0" y2="320.0"><stop offset="0" stop-color="#2974a8" stop-opacity="0.48"/><stop offset="1" stop-color="#2974a8" stop-opacity="0.06"/></linearGradient><linearGradient id="g124" gradientUnits="userSpaceOnUse" x1="956.7" y1="252.6" x2="1030.0" y2="300.0"><stop offset="0" stop-color="#c42f30" stop-opacity="0.56"/><stop offset="1" stop-color="#c42f30" stop-opacity="0.07"/></linearGradient><linearGradient id="g125" gradientUnits="userSpaceOnUse" x1="955.4" y1="252.6" x2="1040.0" y2="280.0"><stop offset="0" stop-color="#d97dbd" stop-opacity="0.48"/><stop offset="1" stop-color="#d97dbd" stop-opacity="0.06"/></linearGradient><linearGradient id="g126" gradientUnits="userSpaceOnUse" x1="956.0" y1="250.9" x2="1115.0" y2="270.0"><stop offset="0" stop-color="#f08323" stop-opacity="0.48"/><stop offset="1" stop-color="#f08323" stop-opacity="0.06"/></linearGradient><linearGradient id="g127" gradientUnits="userSpaceOnUse" x1="956.2" y1="248.6" x2="1085.0" y2="275.0"><stop offset="0" stop-color="#916ab4" stop-opacity="0.48"/><stop offset="1" stop-color="#916ab4" stop-opacity="0.06"/></linearGradient><linearGradient id="g128" gradientUnits="userSpaceOnUse" x1="955.5" y1="249.3" x2="1065.0" y2="285.0"><stop offset="0" stop-color="#369936" stop-opacity="0.56"/><stop offset="1" stop-color="#369936" stop-opacity="0.07"/></linearGradient><linearGradient id="g129" gradientUnits="userSpaceOnUse" x1="952.0" y1="252.1" x2="1055.0" y2="295.0"><stop offset="0" stop-color="#29b7c5" stop-opacity="0.48"/><stop offset="1" stop-color="#29b7c5" stop-opacity="0.06"/></linearGradient><linearGradient id="g130" gradientUnits="userSpaceOnUse" x1="953.4" y1="250.6" x2="1045.0" y2="305.0"><stop offset="0" stop-color="#2974a8" stop-opacity="0.48"/><stop offset="1" stop-color="#2974a8" stop-opacity="0.06"/></linearGradient><linearGradient id="g131" gradientUnits="userSpaceOnUse" x1="957.8" y1="251.0" x2="1025.0" y2="320.0"><stop offset="0" stop-color="#916ab4" stop-opacity="0.48"/><stop offset="1" stop-color="#916ab4" stop-opacity="0.06"/></linearGradient><linearGradient id="g132" gradientUnits="userSpaceOnUse" x1="954.6" y1="250.8" x2="1070.0" y2="330.0"><stop offset="0" stop-color="#b9ba37" stop-opacity="0.48"/><stop offset="1" stop-color="#b9ba37" stop-opacity="0.06"/></linearGradient><linearGradient id="g133" gradientUnits="userSpaceOnUse" x1="956.4" y1="252.0" x2="1080.0" y2="345.0"><stop offset="0" stop-color="#369936" stop-opacity="0.48"/><stop offset="1" stop-color="#369936" stop-opacity="0.06"/></linearGradient><linearGradient id="g134" gradientUnits="userSpaceOnUse" x1="952.8" y1="251.0" x2="1050.0" y2="355.0"><stop offset="0" stop-color="#29b7c5" stop-opacity="0.40"/><stop offset="1" stop-color="#29b7c5" stop-opacity="0.05"/></linearGradient><linearGradient id="g135" gradientUnits="userSpaceOnUse" x1="954.0" y1="249.7" x2="1095.0" y2="295.0"><stop offset="0" stop-color="#369936" stop-opacity="0.48"/><stop offset="1" stop-color="#369936" stop-opacity="0.06"/></linearGradient><linearGradient id="g136" gradientUnits="userSpaceOnUse" x1="958.2" y1="250.8" x2="1060.0" y2="340.0"><stop offset="0" stop-color="#f08323" stop-opacity="0.48"/><stop offset="1" stop-color="#f08323" stop-opacity="0.06"/></linearGradient><linearGradient id="g137" gradientUnits="userSpaceOnUse" x1="956.5" y1="251.9" x2="1020.0" y2="340.0"><stop offset="0" stop-color="#c42f30" stop-opacity="0.48"/><stop offset="1" stop-color="#c42f30" stop-opacity="0.06"/></linearGradient><linearGradient id="g138" gradientUnits="userSpaceOnUse" x1="937.0" y1="214.0" x2="858.0" y2="181.0"><stop offset="0" stop-color="#369936" stop-opacity="0.88"/><stop offset="1" stop-color="#369936" stop-opacity="0.11"/></linearGradient><linearGradient id="g139" gradientUnits="userSpaceOnUse" x1="937.0" y1="214.0" x2="874.0" y2="194.0"><stop offset="0" stop-color="#916ab4" stop-opacity="0.64"/><stop offset="1" stop-color="#916ab4" stop-opacity="0.08"/></linearGradient><linearGradient id="g140" gradientUnits="userSpaceOnUse" x1="937.0" y1="214.0" x2="859.0" y2="168.0"><stop offset="0" stop-color="#916ab4" stop-opacity="0.48"/><stop offset="1" stop-color="#916ab4" stop-opacity="0.06"/></linearGradient><linearGradient id="g141" gradientUnits="userSpaceOnUse" x1="937.0" y1="214.0" x2="875.0" y2="155.0"><stop offset="0" stop-color="#916ab4" stop-opacity="0.40"/><stop offset="1" stop-color="#916ab4" stop-opacity="0.05"/></linearGradient><linearGradient id="g142" gradientUnits="userSpaceOnUse" x1="915.0" y1="249.5" x2="850.0" y2="203.0"><stop offset="0" stop-color="#369936" stop-opacity="0.88"/><stop offset="1" stop-color="#369936" stop-opacity="0.11"/></linearGradient><linearGradient id="g143" gradientUnits="userSpaceOnUse" x1="915.0" y1="249.5" x2="845.0" y2="206.0"><stop offset="0" stop-color="#916ab4" stop-opacity="0.64"/><stop offset="1" stop-color="#916ab4" stop-opacity="0.08"/></linearGradient><linearGradient id="g144" gradientUnits="userSpaceOnUse" x1="915.0" y1="249.5" x2="856.0" y2="205.0"><stop offset="0" stop-color="#916ab4" stop-opacity="0.48"/><stop offset="1" stop-color="#916ab4" stop-opacity="0.06"/></linearGradient><linearGradient id="g145" gradientUnits="userSpaceOnUse" x1="915.0" y1="249.5" x2="849.0" y2="233.0"><stop offset="0" stop-color="#b9ba37" stop-opacity="0.56"/><stop offset="1" stop-color="#b9ba37" stop-opacity="0.07"/></linearGradient><linearGradient id="g146" gradientUnits="userSpaceOnUse" x1="915.0" y1="249.5" x2="851.0" y2="236.0"><stop offset="0" stop-color="#369936" stop-opacity="0.48"/><stop offset="1" stop-color="#369936" stop-opacity="0.06"/></linearGradient><linearGradient id="g147" gradientUnits="userSpaceOnUse" x1="915.0" y1="249.5" x2="842.0" y2="218.0"><stop offset="0" stop-color="#7f7f7f" stop-opacity="0.35"/><stop offset="1" stop-color="#7f7f7f" stop-opacity="0.04"/></linearGradient><linearGradient id="g148" gradientUnits="userSpaceOnUse" x1="915.0" y1="249.5" x2="860.0" y2="212.0"><stop offset="0" stop-color="#369936" stop-opacity="0.40"/><stop offset="1" stop-color="#369936" stop-opacity="0.05"/></linearGradient><linearGradient id="g149" gradientUnits="userSpaceOnUse" x1="915.0" y1="249.5" x2="879.0" y2="362.0"><stop offset="0" stop-color="#369936" stop-opacity="0.72"/><stop offset="1" stop-color="#369936" stop-opacity="0.09"/></linearGradient><linearGradient id="g150" gradientUnits="userSpaceOnUse" x1="915.0" y1="249.5" x2="896.0" y2="344.0"><stop offset="0" stop-color="#f08323" stop-opacity="0.72"/><stop offset="1" stop-color="#f08323" stop-opacity="0.09"/></linearGradient><linearGradient id="g151" gradientUnits="userSpaceOnUse" x1="915.0" y1="249.5" x2="909.0" y2="344.0"><stop offset="0" stop-color="#86584f" stop-opacity="0.64"/><stop offset="1" stop-color="#86584f" stop-opacity="0.08"/></linearGradient><linearGradient id="g152" gradientUnits="userSpaceOnUse" x1="915.0" y1="249.5" x2="904.0" y2="315.0"><stop offset="0" stop-color="#7f7f7f" stop-opacity="0.56"/><stop offset="1" stop-color="#7f7f7f" stop-opacity="0.07"/></linearGradient><linearGradient id="g153" gradientUnits="userSpaceOnUse" x1="915.0" y1="249.5" x2="917.0" y2="327.0"><stop offset="0" stop-color="#7f7f7f" stop-opacity="0.48"/><stop offset="1" stop-color="#7f7f7f" stop-opacity="0.06"/></linearGradient><linearGradient id="g154" gradientUnits="userSpaceOnUse" x1="915.0" y1="249.5" x2="929.0" y2="331.0"><stop offset="0" stop-color="#d97dbd" stop-opacity="0.48"/><stop offset="1" stop-color="#d97dbd" stop-opacity="0.06"/></linearGradient><linearGradient id="g155" gradientUnits="userSpaceOnUse" x1="915.0" y1="249.5" x2="933.0" y2="304.0"><stop offset="0" stop-color="#2974a8" stop-opacity="0.80"/><stop offset="1" stop-color="#2974a8" stop-opacity="0.10"/></linearGradient><linearGradient id="g156" gradientUnits="userSpaceOnUse" x1="915.0" y1="249.5" x2="946.0" y2="307.0"><stop offset="0" stop-color="#b9ba37" stop-opacity="0.56"/><stop offset="1" stop-color="#b9ba37" stop-opacity="0.07"/></linearGradient><linearGradient id="g157" gradientUnits="userSpaceOnUse" x1="915.0" y1="249.5" x2="888.0" y2="350.0"><stop offset="0" stop-color="#d97dbd" stop-opacity="0.40"/><stop offset="1" stop-color="#d97dbd" stop-opacity="0.05"/></linearGradient><linearGradient id="g158" gradientUnits="userSpaceOnUse" x1="915.0" y1="249.5" x2="903.0" y2="360.0"><stop offset="0" stop-color="#2974a8" stop-opacity="0.40"/><stop offset="1" stop-color="#2974a8" stop-opacity="0.05"/></linearGradient><linearGradient id="g159" gradientUnits="userSpaceOnUse" x1="915.0" y1="249.5" x2="915.0" y2="335.0"><stop offset="0" stop-color="#86584f" stop-opacity="0.40"/><stop offset="1" stop-color="#86584f" stop-opacity="0.05"/></linearGradient><linearGradient id="g160" gradientUnits="userSpaceOnUse" x1="915.0" y1="249.5" x2="935.0" y2="345.0"><stop offset="0" stop-color="#7f7f7f" stop-opacity="0.32"/><stop offset="1" stop-color="#7f7f7f" stop-opacity="0.04"/></linearGradient><linearGradient id="g161" gradientUnits="userSpaceOnUse" x1="956.5" y1="250.5" x2="931.0" y2="306.0"><stop offset="0" stop-color="#7f7f7f" stop-opacity="0.96"/><stop offset="1" stop-color="#7f7f7f" stop-opacity="0.12"/></linearGradient><linearGradient id="g162" gradientUnits="userSpaceOnUse" x1="956.5" y1="250.5" x2="944.0" y2="317.0"><stop offset="0" stop-color="#86584f" stop-opacity="0.48"/><stop offset="1" stop-color="#86584f" stop-opacity="0.06"/></linearGradient><linearGradient id="g163" gradientUnits="userSpaceOnUse" x1="956.5" y1="250.5" x2="954.0" y2="323.0"><stop offset="0" stop-color="#b9ba37" stop-opacity="0.48"/><stop offset="1" stop-color="#b9ba37" stop-opacity="0.06"/></linearGradient><linearGradient id="g164" gradientUnits="userSpaceOnUse" x1="956.5" y1="250.5" x2="958.0" y2="352.0"><stop offset="0" stop-color="#7f7f7f" stop-opacity="0.40"/><stop offset="1" stop-color="#7f7f7f" stop-opacity="0.05"/></linearGradient><linearGradient id="g165" gradientUnits="userSpaceOnUse" x1="956.5" y1="250.5" x2="964.0" y2="323.0"><stop offset="0" stop-color="#2974a8" stop-opacity="0.64"/><stop offset="1" stop-color="#2974a8" stop-opacity="0.08"/></linearGradient><linearGradient id="g166" gradientUnits="userSpaceOnUse" x1="956.5" y1="250.5" x2="958.0" y2="345.0"><stop offset="0" stop-color="#f08323" stop-opacity="0.40"/><stop offset="1" stop-color="#f08323" stop-opacity="0.05"/></linearGradient><linearGradient id="g167" gradientUnits="userSpaceOnUse" x1="956.5" y1="250.5" x2="948.0" y2="312.0"><stop offset="0" stop-color="#b9ba37" stop-opacity="0.40"/><stop offset="1" stop-color="#b9ba37" stop-opacity="0.05"/></linearGradient><linearGradient id="g168" gradientUnits="userSpaceOnUse" x1="956.5" y1="250.5" x2="970.0" y2="329.0"><stop offset="0" stop-color="#f08323" stop-opacity="0.48"/><stop offset="1" stop-color="#f08323" stop-opacity="0.06"/></linearGradient><linearGradient id="g169" gradientUnits="userSpaceOnUse" x1="956.5" y1="250.5" x2="974.0" y2="326.0"><stop offset="0" stop-color="#7f7f7f" stop-opacity="0.40"/><stop offset="1" stop-color="#7f7f7f" stop-opacity="0.05"/></linearGradient><linearGradient id="g170" gradientUnits="userSpaceOnUse" x1="956.5" y1="250.5" x2="955.0" y2="358.0"><stop offset="0" stop-color="#86584f" stop-opacity="0.32"/><stop offset="1" stop-color="#86584f" stop-opacity="0.04"/></linearGradient><linearGradient id="g171" gradientUnits="userSpaceOnUse" x1="956.5" y1="250.5" x2="1025.0" y2="209.0"><stop offset="0" stop-color="#916ab4" stop-opacity="0.48"/><stop offset="1" stop-color="#916ab4" stop-opacity="0.06"/></linearGradient><linearGradient id="g172" gradientUnits="userSpaceOnUse" x1="956.5" y1="250.5" x2="1045.0" y2="212.0"><stop offset="0" stop-color="#d97dbd" stop-opacity="0.48"/><stop offset="1" stop-color="#d97dbd" stop-opacity="0.06"/></linearGradient><linearGradient id="g173" gradientUnits="userSpaceOnUse" x1="956.5" y1="250.5" x2="1008.0" y2="201.0"><stop offset="0" stop-color="#29b7c5" stop-opacity="0.64"/><stop offset="1" stop-color="#29b7c5" stop-opacity="0.08"/></linearGradient><linearGradient id="g174" gradientUnits="userSpaceOnUse" x1="956.5" y1="250.5" x2="1011.0" y2="238.0"><stop offset="0" stop-color="#b9ba37" stop-opacity="0.48"/><stop offset="1" stop-color="#b9ba37" stop-opacity="0.06"/></linearGradient><linearGradient id="g175" gradientUnits="userSpaceOnUse" x1="956.5" y1="250.5" x2="1030.0" y2="200.0"><stop offset="0" stop-color="#c42f30" stop-opacity="0.40"/><stop offset="1" stop-color="#c42f30" stop-opacity="0.05"/></linearGradient><linearGradient id="g176" gradientUnits="userSpaceOnUse" x1="937.0" y1="214.0" x2="1020.0" y2="190.0"><stop offset="0" stop-color="#c42f30" stop-opacity="0.40"/><stop offset="1" stop-color="#c42f30" stop-opacity="0.05"/></linearGradient><linearGradient id="g177" gradientUnits="userSpaceOnUse" x1="937.0" y1="214.0" x2="1009.0" y2="179.0"><stop offset="0" stop-color="#d97dbd" stop-opacity="0.56"/><stop offset="1" stop-color="#d97dbd" stop-opacity="0.07"/></linearGradient><linearGradient id="g178" gradientUnits="userSpaceOnUse" x1="937.0" y1="214.0" x2="1007.0" y2="201.0"><stop offset="0" stop-color="#369936" stop-opacity="0.48"/><stop offset="1" stop-color="#369936" stop-opacity="0.06"/></linearGradient><linearGradient id="g179" gradientUnits="userSpaceOnUse" x1="937.0" y1="214.0" x2="1007.0" y2="148.0"><stop offset="0" stop-color="#d97dbd" stop-opacity="0.56"/><stop offset="1" stop-color="#d97dbd" stop-opacity="0.07"/></linearGradient><linearGradient id="g180" gradientUnits="userSpaceOnUse" x1="937.0" y1="209.0" x2="1005.0" y2="183.0"><stop offset="0" stop-color="#c42f30" stop-opacity="0.48"/><stop offset="1" stop-color="#c42f30" stop-opacity="0.06"/></linearGradient></defs>
<path d="M935.1 212.7Q923.0 120.3 911.0 28.0" stroke="url(#g1)"/>
<path d="M937.7 212.3Q951.4 118.2 965.0 24.0" stroke="url(#g2)"/>
<path d="M936.8 213.6Q922.9 129.8 909.0 46.0" stroke="url(#g3)"/>
<path d="M933.0 214.3Q950.5 133.6 968.0 53.0" stroke="url(#g4)"/>
<path d="M932.8 214.0Q951.4 138.5 970.0 63.0" stroke="url(#g5)"/>
<path d="M933.1 212.4Q907.0 137.7 881.0 63.0" stroke="url(#g6)"/>
<path d="M935.9 215.7Q914.9 145.4 894.0 75.0" stroke="url(#g7)"/>
<path d="M933.5 213.0Q916.7 138.5 900.0 64.0" stroke="url(#g8)"/>
<path d="M937.5 216.3Q921.8 140.6 906.0 65.0" stroke="url(#g9)"/>
<path d="M937.1 213.8Q934.6 136.9 932.0 60.0" stroke="url(#g10)"/>
<path d="M940.3 212.2Q939.2 137.6 938.0 63.0" stroke="url(#g11)"/>
<path d="M939.4 213.3Q940.2 139.2 941.0 65.0" stroke="url(#g12)"/>
<path d="M933.7 212.5Q930.8 140.3 928.0 68.0" stroke="url(#g13)"/>
<path d="M935.0 215.7Q941.0 146.8 947.0 78.0" stroke="url(#g14)"/>
<path d="M933.9 214.6Q902.5 163.8 871.0 113.0" stroke="url(#g15)"/>
<path d="M937.6 213.7Q910.5 176.1 879.0 142.0" stroke="url(#g16)"/>
<path d="M936.9 212.3Q909.4 179.9 875.0 155.0" stroke="url(#g17)"/>
<path d="M933.0 212.9Q964.0 160.0 995.0 107.0" stroke="url(#g18)"/>
<path d="M937.9 213.9Q968.0 163.5 998.0 113.0" stroke="url(#g19)"/>
<path d="M935.0 214.6Q967.0 177.0 1007.0 148.0" stroke="url(#g20)"/>
<path d="M936.1 213.3Q975.6 183.7 1015.0 154.0" stroke="url(#g21)"/>
<path d="M938.9 215.1Q970.3 190.1 1009.0 179.0" stroke="url(#g22)"/>
<path d="M934.5 214.6Q970.3 205.6 1007.0 201.0" stroke="url(#g23)"/>
<path d="M936.7 215.9Q928.4 154.0 920.0 92.0" stroke="url(#g24)"/>
<path d="M938.3 213.3Q931.7 151.6 925.0 90.0" stroke="url(#g25)"/>
<path d="M940.3 212.5Q946.2 153.8 952.0 95.0" stroke="url(#g26)"/>
<path d="M935.8 215.4Q946.4 160.2 957.0 105.0" stroke="url(#g27)"/>
<path d="M933.7 214.2Q939.4 167.1 945.0 120.0" stroke="url(#g28)"/>
<path d="M932.8 215.0Q947.4 166.5 962.0 118.0" stroke="url(#g29)"/>
<path d="M938.6 214.6Q926.8 162.3 915.0 110.0" stroke="url(#g30)"/>
<path d="M939.5 213.4Q934.8 149.2 930.0 85.0" stroke="url(#g31)"/>
<path d="M938.1 214.7Q927.5 160.3 917.0 106.0" stroke="url(#g32)"/>
<path d="M937.1 214.1Q931.6 152.0 926.0 90.0" stroke="url(#g33)"/>
<path d="M939.2 216.3Q936.1 150.6 933.0 85.0" stroke="url(#g34)"/>
<path d="M936.3 215.0Q940.1 138.5 944.0 62.0" stroke="url(#g35)"/>
<path d="M933.0 215.2Q941.5 161.6 950.0 108.0" stroke="url(#g36)"/>
<path d="M937.7 216.5Q919.8 156.2 902.0 96.0" stroke="url(#g37)"/>
<path d="M939.1 213.3Q918.0 161.6 897.0 110.0" stroke="url(#g38)"/>
<path d="M935.6 215.0Q945.8 149.5 956.0 84.0" stroke="url(#g39)"/>
<path d="M932.7 214.1Q946.8 153.0 961.0 92.0" stroke="url(#g40)"/>
<path d="M933.8 212.5Q922.9 156.3 912.0 100.0" stroke="url(#g41)"/>
<path d="M933.0 215.5Q935.0 152.7 937.0 90.0" stroke="url(#g42)"/>
<path d="M933.5 213.1Q937.3 154.1 941.0 95.0" stroke="url(#g43)"/>
<path d="M935.6 215.9Q929.3 150.0 923.0 84.0" stroke="url(#g44)"/>
<path d="M933.1 214.0Q934.1 156.0 935.0 98.0" stroke="url(#g45)"/>
<path d="M936.9 216.0Q942.4 152.0 948.0 88.0" stroke="url(#g46)"/>
<path d="M939.1 215.9Q946.0 155.9 953.0 96.0" stroke="url(#g47)"/>
<path d="M934.7 213.9Q926.9 150.9 919.0 88.0" stroke="url(#g48)"/>
<path d="M935.4 216.0Q939.2 152.0 943.0 88.0" stroke="url(#g49)"/>
<path d="M940.2 212.7Q926.1 166.3 912.0 120.0" stroke="url(#g50)"/>
<path d="M933.9 213.0Q947.0 174.0 960.0 135.0" stroke="url(#g51)"/>
<path d="M912.4 249.7Q852.7 258.8 793.0 268.0" stroke="url(#g52)"/>
<path d="M915.2 248.7Q837.6 266.3 760.0 284.0" stroke="url(#g53)"/>
<path d="M910.5 249.4Q826.8 274.7 743.0 300.0" stroke="url(#g54)"/>
<path d="M913.5 250.0Q833.2 276.5 753.0 303.0" stroke="url(#g55)"/>
<path d="M918.1 250.6Q844.1 269.3 770.0 288.0" stroke="url(#g56)"/>
<path d="M914.6 250.3Q852.8 272.6 791.0 295.0" stroke="url(#g57)"/>
<path d="M915.9 247.7Q847.5 282.9 779.0 318.0" stroke="url(#g58)"/>
<path d="M917.7 251.0Q844.8 288.0 772.0 325.0" stroke="url(#g59)"/>
<path d="M917.5 251.1Q844.7 289.5 772.0 328.0" stroke="url(#g60)"/>
<path d="M913.6 249.3Q849.3 305.1 785.0 361.0" stroke="url(#g61)"/>
<path d="M911.3 250.4Q855.7 306.7 800.0 363.0" stroke="url(#g62)"/>
<path d="M911.0 247.8Q867.0 282.9 823.0 318.0" stroke="url(#g63)"/>
<path d="M912.2 248.2Q871.3 303.1 835.0 361.0" stroke="url(#g64)"/>
<path d="M913.2 247.7Q881.1 288.9 849.0 330.0" stroke="url(#g65)"/>
<path d="M910.5 248.2Q862.8 294.1 815.0 340.0" stroke="url(#g66)"/>
<path d="M911.3 249.1Q860.7 299.6 810.0 350.0" stroke="url(#g67)"/>
<path d="M910.7 251.4Q870.4 293.2 830.0 335.0" stroke="url(#g68)"/>
<path d="M915.4 248.2Q857.7 289.1 800.0 330.0" stroke="url(#g69)"/>
<path d="M912.5 249.1Q851.3 279.5 790.0 310.0" stroke="url(#g70)"/>
<path d="M913.4 248.1Q866.7 274.0 820.0 300.0" stroke="url(#g71)"/>
<path d="M917.3 252.0Q879.2 299.5 845.0 350.0" stroke="url(#g72)"/>
<path d="M914.2 249.7Q884.3 295.7 860.0 345.0" stroke="url(#g73)"/>
<path d="M911.2 248.0Q884.9 300.1 865.0 355.0" stroke="url(#g74)"/>
<path d="M913.2 248.7Q889.1 255.3 865.0 262.0" stroke="url(#g75)"/>
<path d="M917.1 248.2Q878.6 260.1 840.0 272.0" stroke="url(#g76)"/>
<path d="M910.7 251.8Q885.3 285.9 860.0 320.0" stroke="url(#g77)"/>
<path d="M914.7 248.2Q892.4 283.1 870.0 318.0" stroke="url(#g78)"/>
<path d="M914.8 247.6Q859.9 261.8 805.0 276.0" stroke="url(#g79)"/>
<path d="M914.7 251.9Q847.4 276.0 780.0 300.0" stroke="url(#g80)"/>
<path d="M917.4 250.6Q846.2 265.3 775.0 280.0" stroke="url(#g81)"/>
<path d="M912.6 249.2Q848.8 269.6 785.0 290.0" stroke="url(#g82)"/>
<path d="M911.8 251.0Q865.9 260.5 820.0 270.0" stroke="url(#g83)"/>
<path d="M914.8 251.0Q856.4 267.5 798.0 284.0" stroke="url(#g84)"/>
<path d="M913.1 248.5Q862.6 270.3 812.0 292.0" stroke="url(#g85)"/>
<path d="M917.0 251.9Q838.5 274.0 760.0 296.0" stroke="url(#g86)"/>
<path d="M917.3 251.1Q841.2 273.1 765.0 295.0" stroke="url(#g87)"/>
<path d="M917.0 250.8Q858.5 270.4 800.0 290.0" stroke="url(#g88)"/>
<path d="M912.3 249.8Q861.2 266.4 810.0 283.0" stroke="url(#g89)"/>
<path d="M913.3 247.6Q851.7 263.8 790.0 280.0" stroke="url(#g90)"/>
<path d="M910.7 248.8Q867.9 279.4 825.0 310.0" stroke="url(#g91)"/>
<path d="M912.6 250.6Q873.8 275.3 835.0 300.0" stroke="url(#g92)"/>
<path d="M918.2 249.5Q881.6 282.3 845.0 315.0" stroke="url(#g93)"/>
<path d="M918.0 251.9Q886.5 291.0 855.0 330.0" stroke="url(#g94)"/>
<path d="M918.1 249.1Q864.1 284.6 810.0 320.0" stroke="url(#g95)"/>
<path d="M912.3 248.5Q853.6 296.8 795.0 345.0" stroke="url(#g96)"/>
<path d="M912.1 248.4Q866.0 301.7 820.0 355.0" stroke="url(#g97)"/>
<path d="M915.5 251.6Q877.7 295.8 840.0 340.0" stroke="url(#g98)"/>
<path d="M917.2 249.7Q883.6 274.8 850.0 300.0" stroke="url(#g99)"/>
<path d="M915.7 251.1Q860.4 278.0 805.0 305.0" stroke="url(#g100)"/>
<path d="M952.7 251.5Q1040.3 265.2 1128.0 279.0" stroke="url(#g101)"/>
<path d="M959.3 252.0Q1028.6 256.0 1098.0 260.0" stroke="url(#g102)"/>
<path d="M958.0 250.7Q1023.0 277.8 1088.0 305.0" stroke="url(#g103)"/>
<path d="M953.4 252.1Q1026.7 292.0 1100.0 332.0" stroke="url(#g104)"/>
<path d="M954.7 252.1Q1025.3 297.1 1096.0 342.0" stroke="url(#g105)"/>
<path d="M959.8 250.3Q1023.9 309.1 1088.0 368.0" stroke="url(#g106)"/>
<path d="M955.2 252.8Q1009.6 309.4 1064.0 366.0" stroke="url(#g107)"/>
<path d="M957.8 249.3Q989.4 305.6 1021.0 362.0" stroke="url(#g108)"/>
<path d="M953.0 249.2Q1011.5 253.1 1070.0 257.0" stroke="url(#g109)"/>
<path d="M959.2 252.1Q1009.6 257.1 1060.0 262.0" stroke="url(#g110)"/>
<path d="M953.2 252.2Q1016.6 271.1 1080.0 290.0" stroke="url(#g111)"/>
<path d="M959.8 251.5Q1014.9 275.7 1070.0 300.0" stroke="url(#g112)"/>
<path d="M954.8 251.0Q1007.4 280.5 1060.0 310.0" stroke="url(#g113)"/>
<path d="M953.0 248.6Q1001.5 284.3 1050.0 320.0" stroke="url(#g114)"/>
<path d="M959.8 251.4Q1002.4 290.7 1045.0 330.0" stroke="url(#g115)"/>
<path d="M956.2 252.7Q997.1 296.4 1038.0 340.0" stroke="url(#g116)"/>
<path d="M955.5 252.4Q982.7 293.2 1010.0 334.0" stroke="url(#g117)"/>
<path d="M958.6 249.4Q974.3 297.2 990.0 345.0" stroke="url(#g118)"/>
<path d="M954.0 249.8Q977.0 302.4 1000.0 355.0" stroke="url(#g119)"/>
<path d="M953.9 251.1Q1032.0 268.1 1110.0 285.0" stroke="url(#g120)"/>
<path d="M954.1 250.4Q1029.5 275.2 1105.0 300.0" stroke="url(#g121)"/>
<path d="M953.0 252.6Q1014.0 301.3 1075.0 350.0" stroke="url(#g122)"/>
<path d="M954.8 250.6Q1022.4 285.3 1090.0 320.0" stroke="url(#g123)"/>
<path d="M956.7 252.6Q993.3 276.3 1030.0 300.0" stroke="url(#g124)"/>
<path d="M955.4 252.6Q997.7 266.3 1040.0 280.0" stroke="url(#g125)"/>
<path d="M956.0 250.9Q1035.5 260.4 1115.0 270.0" stroke="url(#g126)"/>
<path d="M956.2 248.6Q1020.6 261.8 1085.0 275.0" stroke="url(#g127)"/>
<path d="M955.5 249.3Q1010.3 267.2 1065.0 285.0" stroke="url(#g128)"/>
<path d="M952.0 252.1Q1003.5 273.5 1055.0 295.0" stroke="url(#g129)"/>
<path d="M953.4 250.6Q999.2 277.8 1045.0 305.0" stroke="url(#g130)"/>
<path d="M957.8 251.0Q991.4 285.5 1025.0 320.0" stroke="url(#g131)"/>
<path d="M954.6 250.8Q1012.3 290.4 1070.0 330.0" stroke="url(#g132)"/>
<path d="M956.4 252.0Q1018.2 298.5 1080.0 345.0" stroke="url(#g133)"/>
<path d="M952.8 251.0Q1001.4 303.0 1050.0 355.0" stroke="url(#g134)"/>
<path d="M954.0 249.7Q1024.5 272.4 1095.0 295.0" stroke="url(#g135)"/>
<path d="M958.2 250.8Q1009.1 295.4 1060.0 340.0" stroke="url(#g136)"/>
<path d="M956.5 251.9Q988.2 296.0 1020.0 340.0" stroke="url(#g137)"/>
<path d="M858.0 181.0C861.7 181.3 873.0 181.8 880.0 183.0C887.0 184.2 893.7 185.8 900.0 188.0C906.3 190.2 913.0 193.2 918.0 196.0C923.0 198.8 926.8 202.0 930.0 205.0C933.2 208.0 935.8 212.5 937.0 214.0" stroke="url(#g138)"/>
<path d="M874.0 194.0C877.5 194.0 888.7 193.7 895.0 194.0C901.3 194.3 906.8 194.5 912.0 196.0C917.2 197.5 921.8 200.0 926.0 203.0C930.2 206.0 935.2 212.2 937.0 214.0" stroke="url(#g139)"/>
<path d="M859.0 168.0C862.2 170.0 871.2 176.7 878.0 180.0C884.8 183.3 893.0 185.0 900.0 188.0C907.0 191.0 913.8 193.7 920.0 198.0C926.2 202.3 934.2 211.3 937.0 214.0" stroke="url(#g140)"/>
<path d="M875.0 155.0C877.2 157.8 883.0 166.5 888.0 172.0C893.0 177.5 898.8 182.8 905.0 188.0C911.2 193.2 919.7 198.7 925.0 203.0C930.3 207.3 935.0 212.2 937.0 214.0" stroke="url(#g141)"/>
<path d="M850.0 203.0C851.0 205.2 853.3 211.7 856.0 216.0C858.7 220.3 861.7 225.0 866.0 229.0C870.3 233.0 876.3 237.2 882.0 240.0C887.7 242.8 894.5 244.4 900.0 246.0C905.5 247.6 912.5 248.9 915.0 249.5" stroke="url(#g142)"/>
<path d="M845.0 206.0C846.2 208.3 848.8 215.7 852.0 220.0C855.2 224.3 859.3 228.5 864.0 232.0C868.7 235.5 874.3 238.5 880.0 241.0C885.7 243.5 892.2 245.6 898.0 247.0C903.8 248.4 912.2 249.1 915.0 249.5" stroke="url(#g143)"/>
<path d="M856.0 205.0C857.7 205.8 863.0 207.2 866.0 210.0C869.0 212.8 870.7 217.7 874.0 222.0C877.3 226.3 881.7 232.2 886.0 236.0C890.3 239.8 895.2 242.8 900.0 245.0C904.8 247.2 912.5 248.8 915.0 249.5" stroke="url(#g144)"/>
<path d="M849.0 233.0C852.5 233.8 862.8 236.2 870.0 238.0C877.2 239.8 884.5 242.1 892.0 244.0C899.5 245.9 911.2 248.6 915.0 249.5" stroke="url(#g145)"/>
<path d="M851.0 236.0C854.5 236.8 864.8 239.3 872.0 241.0C879.2 242.7 886.8 244.6 894.0 246.0C901.2 247.4 911.5 248.9 915.0 249.5" stroke="url(#g146)"/>
<path d="M842.0 218.0C844.2 220.0 849.5 226.2 855.0 230.0C860.5 233.8 868.3 238.2 875.0 241.0C881.7 243.8 888.3 245.6 895.0 247.0C901.7 248.4 911.7 249.1 915.0 249.5" stroke="url(#g147)"/>
<path d="M860.0 212.0C861.7 214.2 866.0 220.7 870.0 225.0C874.0 229.3 879.0 234.7 884.0 238.0C889.0 241.3 894.8 243.1 900.0 245.0C905.2 246.9 912.5 248.8 915.0 249.5" stroke="url(#g148)"/>
<path d="M915.0 249.5C912.5 253.8 904.2 265.8 900.0 275.0C895.8 284.2 892.7 295.0 890.0 305.0C887.3 315.0 885.8 325.5 884.0 335.0C882.2 344.5 879.8 357.5 879.0 362.0" stroke="url(#g149)"/>
<path d="M915.0 249.5C913.5 252.6 908.5 260.4 906.0 268.0C903.5 275.6 901.5 286.3 900.0 295.0C898.5 303.7 897.7 311.8 897.0 320.0C896.3 328.2 896.2 340.0 896.0 344.0" stroke="url(#g150)"/>
<path d="M915.0 249.5C914.2 252.6 911.5 261.2 910.0 268.0C908.5 274.8 906.8 282.2 906.0 290.0C905.2 297.8 904.5 306.0 905.0 315.0C905.5 324.0 908.3 339.2 909.0 344.0" stroke="url(#g151)"/>
<path d="M915.0 249.5C914.3 253.2 912.5 264.4 911.0 272.0C909.5 279.6 907.2 287.8 906.0 295.0C904.8 302.2 904.3 311.7 904.0 315.0" stroke="url(#g152)"/>
<path d="M915.0 249.5C914.8 253.8 914.3 266.6 914.0 275.0C913.7 283.4 912.5 291.3 913.0 300.0C913.5 308.7 916.3 322.5 917.0 327.0" stroke="url(#g153)"/>
<path d="M915.0 249.5C915.5 253.2 916.8 263.6 918.0 272.0C919.2 280.4 920.2 290.2 922.0 300.0C923.8 309.8 927.8 325.8 929.0 331.0" stroke="url(#g154)"/>
<path d="M915.0 249.5C916.5 253.8 921.0 265.9 924.0 275.0C927.0 284.1 931.5 299.2 933.0 304.0" stroke="url(#g155)"/>
<path d="M915.0 249.5C917.2 253.8 922.8 265.4 928.0 275.0C933.2 284.6 943.0 301.7 946.0 307.0" stroke="url(#g156)"/>
<path d="M915.0 249.5C913.0 254.6 906.5 269.1 903.0 280.0C899.5 290.9 896.5 303.3 894.0 315.0C891.5 326.7 889.0 344.2 888.0 350.0" stroke="url(#g157)"/>
<path d="M915.0 249.5C913.8 255.4 910.2 273.2 908.0 285.0C905.8 296.8 902.8 307.5 902.0 320.0C901.2 332.5 902.8 353.3 903.0 360.0" stroke="url(#g158)"/>
<path d="M915.0 249.5C915.2 255.4 916.5 274.9 916.0 285.0C915.5 295.1 912.2 301.7 912.0 310.0C911.8 318.3 914.5 330.8 915.0 335.0" stroke="url(#g159)"/>
<path d="M915.0 249.5C915.8 256.2 918.3 278.2 920.0 290.0C921.7 301.8 922.5 310.8 925.0 320.0C927.5 329.2 933.3 340.8 935.0 345.0" stroke="url(#g160)"/>
<path d="M956.5 250.5C955.2 253.4 951.6 261.8 949.0 268.0C946.4 274.2 944.0 281.7 941.0 288.0C938.0 294.3 932.7 303.0 931.0 306.0" stroke="url(#g161)"/>
<path d="M956.5 250.5C955.6 254.6 952.8 266.8 951.0 275.0C949.2 283.2 947.2 293.0 946.0 300.0C944.8 307.0 944.3 314.2 944.0 317.0" stroke="url(#g162)"/>
<path d="M956.5 250.5C956.4 255.4 956.6 271.8 956.0 280.0C955.4 288.2 953.3 292.8 953.0 300.0C952.7 307.2 953.8 319.2 954.0 323.0" stroke="url(#g163)"/>
<path d="M956.5 250.5C957.2 257.1 960.9 278.4 961.0 290.0C961.1 301.6 957.5 309.7 957.0 320.0C956.5 330.3 957.8 346.7 958.0 352.0" stroke="url(#g164)"/>
<path d="M956.5 250.5C957.2 254.6 959.9 266.8 961.0 275.0C962.1 283.2 962.5 292.0 963.0 300.0C963.5 308.0 963.8 319.2 964.0 323.0" stroke="url(#g165)"/>
<path d="M956.5 250.5C956.6 257.1 957.4 278.4 957.0 290.0C956.6 301.6 953.8 310.8 954.0 320.0C954.2 329.2 957.3 340.8 958.0 345.0" stroke="url(#g166)"/>
<path d="M956.5 250.5C955.8 254.6 953.2 267.6 952.0 275.0C950.8 282.4 949.7 288.8 949.0 295.0C948.3 301.2 948.2 309.2 948.0 312.0" stroke="url(#g167)"/>
<path d="M956.5 250.5C957.8 255.4 962.1 270.9 964.0 280.0C965.9 289.1 967.0 296.8 968.0 305.0C969.0 313.2 969.7 325.0 970.0 329.0" stroke="url(#g168)"/>
<path d="M956.5 250.5C958.1 255.4 963.8 271.8 966.0 280.0C968.2 288.2 968.7 292.3 970.0 300.0C971.3 307.7 973.3 321.7 974.0 326.0" stroke="url(#g169)"/>
<path d="M956.5 250.5C957.1 256.2 958.4 273.4 960.0 285.0C961.6 296.6 966.0 310.0 966.0 320.0C966.0 330.0 961.8 338.7 960.0 345.0C958.2 351.3 955.8 355.8 955.0 358.0" stroke="url(#g170)"/>
<path d="M956.5 250.5C959.6 248.4 968.6 242.8 975.0 238.0C981.4 233.2 989.2 226.7 995.0 222.0C1000.8 217.3 1005.0 212.2 1010.0 210.0C1015.0 207.8 1022.5 209.2 1025.0 209.0" stroke="url(#g171)"/>
<path d="M956.5 250.5C962.1 248.4 979.4 242.8 990.0 238.0C1000.6 233.2 1010.8 226.3 1020.0 222.0C1029.2 217.7 1040.8 213.7 1045.0 212.0" stroke="url(#g172)"/>
<path d="M956.5 250.5C959.6 247.4 968.6 237.9 975.0 232.0C981.4 226.1 989.5 220.2 995.0 215.0C1000.5 209.8 1005.8 203.3 1008.0 201.0" stroke="url(#g173)"/>
<path d="M956.5 250.5C961.2 249.2 975.9 245.1 985.0 243.0C994.1 240.9 1006.7 238.8 1011.0 238.0" stroke="url(#g174)"/>
<path d="M956.5 250.5C960.4 247.9 972.8 240.9 980.0 235.0C987.2 229.1 994.2 220.0 1000.0 215.0C1005.8 210.0 1010.0 207.5 1015.0 205.0C1020.0 202.5 1027.5 200.8 1030.0 200.0" stroke="url(#g175)"/>
<path d="M937.0 214.0C940.8 211.7 952.5 203.2 960.0 200.0C967.5 196.8 975.3 195.7 982.0 195.0C988.7 194.3 993.7 196.8 1000.0 196.0C1006.3 195.2 1016.7 191.0 1020.0 190.0" stroke="url(#g176)"/>
<path d="M937.0 214.0C940.8 210.8 952.0 199.8 960.0 195.0C968.0 190.2 976.8 187.7 985.0 185.0C993.2 182.3 1005.0 180.0 1009.0 179.0" stroke="url(#g177)"/>
<path d="M937.0 214.0C941.7 212.3 956.2 206.0 965.0 204.0C973.8 202.0 983.0 202.5 990.0 202.0C997.0 201.5 1004.2 201.2 1007.0 201.0" stroke="url(#g178)"/>
<path d="M937.0 214.0C940.0 210.0 948.7 197.0 955.0 190.0C961.3 183.0 968.8 177.0 975.0 172.0C981.2 167.0 986.7 164.0 992.0 160.0C997.3 156.0 1004.5 150.0 1007.0 148.0" stroke="url(#g179)"/>
<path d="M937.0 209.0C940.8 205.8 952.0 194.0 960.0 190.0C968.0 186.0 977.5 186.2 985.0 185.0C992.5 183.8 1001.7 183.3 1005.0 183.0" stroke="url(#g180)"/>
<path d="M907 248L922 246.5M948 253L962 252" stroke="#d62728" stroke-width="2.2" stroke-opacity="0.85"/>
<circle cx="933" cy="213" r="1.8" fill="#c42f30" fill-opacity="0.8" stroke="none"/>
<circle cx="936" cy="218" r="1.8" fill="#2974a8" fill-opacity="0.8" stroke="none"/>
<circle cx="935" cy="220" r="1.8" fill="#369936" fill-opacity="0.8" stroke="none"/>
<circle cx="939" cy="217" r="1.8" fill="#b9ba37" fill-opacity="0.8" stroke="none"/>
<circle cx="943" cy="216" r="1.8" fill="#7f7f7f" fill-opacity="0.8" stroke="none"/>
<circle cx="913" cy="249" r="1.8" fill="#2974a8" fill-opacity="0.8" stroke="none"/>
<circle cx="917" cy="247" r="1.8" fill="#369936" fill-opacity="0.8" stroke="none"/>
<circle cx="911" cy="251" r="1.8" fill="#f08323" fill-opacity="0.8" stroke="none"/>
<circle cx="953" cy="248" r="1.8" fill="#7f7f7f" fill-opacity="0.8" stroke="none"/>
<circle cx="957" cy="251" r="1.8" fill="#2974a8" fill-opacity="0.8" stroke="none"/>
<circle cx="955" cy="247" r="1.8" fill="#b9ba37" fill-opacity="0.8" stroke="none"/>
<circle cx="962" cy="249" r="1.8" fill="#86584f" fill-opacity="0.8" stroke="none"/>
</g></g>
<rect x="681.10" y="7.60" width="510.70" height="379.80" fill="none" stroke="#444" stroke-width="1.3"/>
<path d="M676.80 379.35H681.10M676.80 336.50H681.10M676.80 293.65H681.10M676.80 250.80H681.10M676.80 207.95H681.10M676.80 165.10H681.10M676.80 122.25H681.10M676.80 79.40H681.10M676.80 36.55H681.10M764.70 387.40V391.70M850.50 387.40V391.70M936.30 387.40V391.70M1022.10 387.40V391.70M1107.90 387.40V391.70" stroke="#444" stroke-width="1.3" fill="none"/>
<text x="672.2" y="387.45" font-size="22.00" text-anchor="end">3</text>
<text x="672.2" y="344.60" font-size="22.00" text-anchor="end">2</text>
<text x="672.2" y="301.75" font-size="22.00" text-anchor="end">1</text>
<text x="672.2" y="258.90" font-size="22.00" text-anchor="end">0</text>
<text x="672.2" y="216.05" font-size="22.00" text-anchor="end">1</text>
<text x="672.2" y="173.20" font-size="22.00" text-anchor="end">2</text>
<text x="672.2" y="130.35" font-size="22.00" text-anchor="end">3</text>
<text x="672.2" y="87.50" font-size="22.00" text-anchor="end">4</text>
<text x="672.2" y="44.65" font-size="22.00" text-anchor="end">5</text>
<text x="773.50" y="411.4" font-size="22.00" text-anchor="middle">4</text>
<text x="859.30" y="411.4" font-size="22.00" text-anchor="middle">2</text>
<text x="936.30" y="411.4" font-size="22.00" text-anchor="middle">0</text>
<text x="1022.10" y="411.4" font-size="22.00" text-anchor="middle">2</text>
<text x="1107.90" y="411.4" font-size="22.00" text-anchor="middle">4</text>
<path d="M645.0 380.75H658.0M645.0 337.90H658.0M645.0 295.05H658.0M752.00 404.6H764.80M837.80 404.6H850.60" stroke="#000" stroke-width="1.75" fill="none"/>
<text transform="translate(936.4 437.8) scale(1.05 1)" font-size="24.8" text-anchor="middle">x (Angstrom)</text>
<text transform="translate(633 198.00) rotate(-90) scale(1.05 1)" font-size="24.8" text-anchor="middle">y (Angstrom)</text>
</svg></body></html>
